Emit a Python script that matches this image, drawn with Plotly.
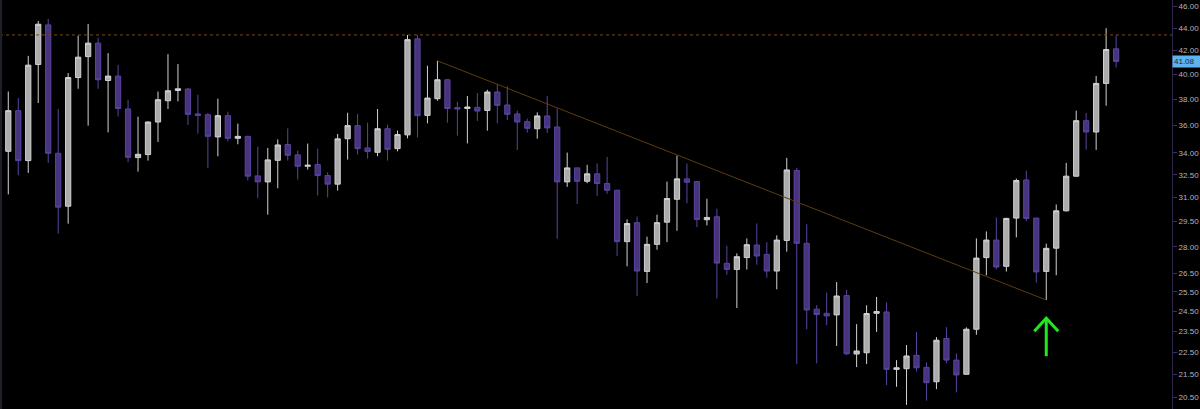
import math
import plotly.graph_objects as go

# ---- data ----
opens = [34.11, 37.10, 33.46, 40.82, 44.30, 33.97, 30.45, 39.73, 41.49, 42.66,
         39.49, 39.85, 37.23, 33.67, 33.88, 36.24, 37.87, 38.68, 38.80, 36.85,
         36.79, 35.14, 36.72, 35.04, 35.18, 32.42, 32.02, 33.48, 34.59, 33.86,
         33.07, 33.19, 32.44, 31.87, 35.01, 35.97, 34.35, 34.04, 35.74, 34.30,
         35.29, 43.04, 36.74, 38.03, 39.55, 37.33, 37.27, 37.35, 37.12, 38.56,
         37.54, 36.85, 36.27, 35.74, 36.70, 35.87, 32.02, 32.96, 32.06, 32.56,
         31.91, 31.47, 28.30, 29.43, 26.61, 28.14, 29.46, 30.89, 32.22, 32.04,
         29.61, 29.79, 27.06, 26.72, 27.38, 28.10, 27.56, 26.63, 28.37, 32.78,
         28.20, 24.61, 24.40, 24.32, 25.31, 22.43, 22.49, 24.40, 24.47, 21.73,
         21.76, 22.37, 21.82, 21.18, 23.16, 22.15, 21.51, 23.61, 27.38, 28.39,
         26.89, 29.71, 32.15, 29.71, 26.61, 27.92, 30.16, 32.40, 36.34, 35.50,
         39.25, 42.16]
highs = [38.60, 38.08, 41.55, 44.66, 44.85, 37.23, 40.10, 43.33, 44.39, 43.15,
         41.79, 40.79, 37.95, 36.64, 36.29, 38.60, 41.70, 40.85, 38.88, 38.34,
         36.92, 38.03, 37.02, 36.12, 35.23, 34.44, 34.35, 34.96, 35.77, 34.16,
         34.66, 34.30, 32.66, 35.36, 36.94, 36.85, 36.19, 37.23, 36.04, 35.60,
         43.39, 43.39, 40.71, 41.13, 39.60, 37.79, 38.24, 38.48, 38.74, 39.22,
         39.01, 37.10, 36.49, 36.97, 38.24, 37.27, 34.02, 33.00, 33.17, 33.26,
         33.72, 31.50, 29.63, 29.81, 28.59, 29.92, 32.04, 33.81, 33.26, 32.06,
         30.92, 30.29, 28.06, 27.62, 28.49, 29.38, 28.27, 28.67, 33.65, 32.96,
         29.34, 24.82, 25.47, 26.03, 25.61, 23.86, 24.81, 25.24, 24.96, 22.15,
         22.85, 23.48, 22.05, 23.23, 23.71, 22.46, 23.70, 28.49, 28.90, 29.75,
         29.73, 32.24, 32.78, 29.73, 28.18, 30.56, 33.30, 37.10, 36.92, 39.87,
         44.00, 43.37]
lows = [31.20, 32.46, 32.62, 37.69, 33.30, 28.77, 29.37, 38.82, 35.97, 38.82,
        35.47, 36.66, 33.35, 32.71, 33.46, 34.78, 37.23, 37.82, 36.02, 35.38,
        32.96, 33.76, 34.80, 34.61, 32.11, 30.96, 29.92, 31.60, 33.46, 32.17,
        32.85, 31.13, 31.00, 31.45, 33.53, 33.88, 33.60, 33.76, 33.46, 34.11,
        35.04, 35.11, 36.14, 37.87, 36.19, 35.23, 34.67, 36.32, 35.60, 36.14,
        36.39, 34.21, 35.45, 35.01, 35.43, 28.47, 31.69, 30.58, 31.93, 31.09,
        31.24, 27.47, 26.89, 25.29, 25.98, 27.83, 28.27, 28.94, 30.64, 29.16,
        29.26, 25.16, 26.43, 24.67, 26.71, 26.98, 26.27, 25.64, 27.72, 21.97,
        23.61, 22.00, 23.81, 22.81, 22.38, 21.83, 21.97, 23.48, 21.04, 20.96,
        20.19, 21.64, 20.37, 20.86, 22.01, 20.72, 21.48, 23.34, 26.40, 26.72,
        26.60, 28.55, 29.52, 26.00, 25.08, 26.40, 30.12, 32.36, 34.23, 34.21,
        37.48, 40.56]
closes = [37.10, 33.46, 40.76, 44.36, 33.97, 30.39, 39.73, 41.44, 42.66, 39.55,
          39.85, 37.27, 33.69, 33.90, 36.24, 37.95, 38.66, 38.82, 36.82, 36.74,
          35.18, 36.72, 35.04, 35.18, 32.40, 32.02, 33.51, 34.56, 33.83, 33.07,
          33.14, 32.44, 31.87, 35.00, 35.97, 34.30, 34.09, 35.74, 34.25, 35.31,
          42.97, 36.72, 38.08, 39.55, 37.27, 37.23, 37.38, 37.07, 38.56, 37.51,
          36.82, 36.24, 35.77, 36.70, 35.80, 32.02, 32.96, 32.06, 32.56, 31.91,
          31.47, 28.30, 29.38, 26.63, 28.14, 29.43, 30.94, 32.22, 32.00, 29.63,
          29.75, 27.07, 26.72, 27.43, 28.12, 27.47, 26.63, 28.39, 32.82, 28.20,
          24.57, 24.34, 24.27, 25.29, 22.44, 22.57, 24.39, 24.49, 21.73, 21.80,
          22.34, 21.80, 21.14, 23.08, 22.15, 21.48, 23.61, 27.35, 28.39, 26.85,
          29.69, 32.11, 29.69, 26.58, 27.91, 30.16, 32.40, 36.34, 35.50, 39.25,
          42.10, 41.08]

tick_values = [20.5, 21.5, 22.5, 23.5, 24.5, 25.5, 26.5, 28.0, 29.5, 31.0,
               32.5, 34.0, 36.0, 38.0, 40.0, 42.0, 44.0, 46.0]
tick_labels = [f"{v:.2f}" for v in tick_values]

resistance_level = 43.39      # horizontal dotted level
trend_start_bar = 43          # downtrend line from this bar's high
trend_end_bar = 104           # ... to this bar's low
arrow_bar = 104               # green arrow under this bar
last_price = closes[-1]

bars = list(range(len(closes)))

# ---- style ----
BG = "#000000"
UP_FILL, UP_LINE = "#ababab", "#d2d2d2"
DN_FILL, DN_LINE = "#47347c", "#5a44a0"
LEVEL_BROWN = "#7a4c14"
TREND_BROWN = "#5e3b10"
GREEN = "#1fe81f"

fig = go.Figure()

fig.add_trace(go.Candlestick(
    x=bars, open=opens, high=highs, low=lows, close=closes,
    increasing=dict(fillcolor=UP_FILL, line=dict(color=UP_LINE, width=1)),
    decreasing=dict(fillcolor=DN_FILL, line=dict(color=DN_LINE, width=1)),
    whiskerwidth=0, hoverinfo="skip", showlegend=False,
))

# downtrend line
fig.add_trace(go.Scatter(
    x=[trend_start_bar, trend_end_bar],
    y=[highs[trend_start_bar], lows[trend_end_bar]],
    mode="lines", line=dict(color=TREND_BROWN, width=1),
    hoverinfo="skip", showlegend=False,
))

shapes = [
    # horizontal dotted level
    dict(type="line", xref="paper", x0=0, x1=1, yref="y",
         y0=resistance_level, y1=resistance_level,
         line=dict(color=LEVEL_BROWN, width=1, dash="dot")),
    # left edge strip
    dict(type="rect", xref="paper", x0=0, x1=0.0018, yref="paper", y0=0, y1=1,
         fillcolor="#1d2027", line=dict(width=0)),
    # green arrow (shaft + head), y in paper units
    dict(type="line", xref="x", yref="paper", x0=arrow_bar, x1=arrow_bar,
         y0=0.129, y1=0.222, line=dict(color=GREEN, width=3)),
    dict(type="path", xref="x", yref="paper",
         path=f"M {arrow_bar-1.2},0.190 L {arrow_bar},0.222 L {arrow_bar+1.2},0.190",
         line=dict(color=GREEN, width=3)),
]

y_lo, y_hi = 20.02, 46.64

fig.update_layout(
    width=1200, height=409,
    margin=dict(l=0, r=28, t=0, b=0),
    paper_bgcolor=BG, plot_bgcolor=BG,
    showlegend=False,
    boxgap=0.25,
    shapes=shapes,
    xaxis=dict(range=[-0.83, 116.6], visible=False, rangeslider=dict(visible=False),
               showgrid=False, zeroline=False),
    yaxis=dict(type="log", side="right",
               range=[math.log10(y_lo), math.log10(y_hi)],
               tickvals=tick_values, ticktext=tick_labels,
               ticks="outside", ticklen=4, tickcolor="#3b3258",
               showline=True, linecolor="#2c2548", linewidth=1,
               showgrid=False, zeroline=False,
               tickfont=dict(family="Liberation Sans, Arial", size=8, color="#b4b4bc")),
    annotations=[dict(
        xref="paper", x=1, xanchor="left", yref="y", y=math.log10(last_price),
        text=f"{last_price:.2f}", showarrow=False,
        bgcolor="#5cb3ef", borderpad=1, width=25, align="left",
        font=dict(family="Liberation Sans, Arial", size=8, color="#1a2333"),
    )],
)

fig.write_html("out.html")
